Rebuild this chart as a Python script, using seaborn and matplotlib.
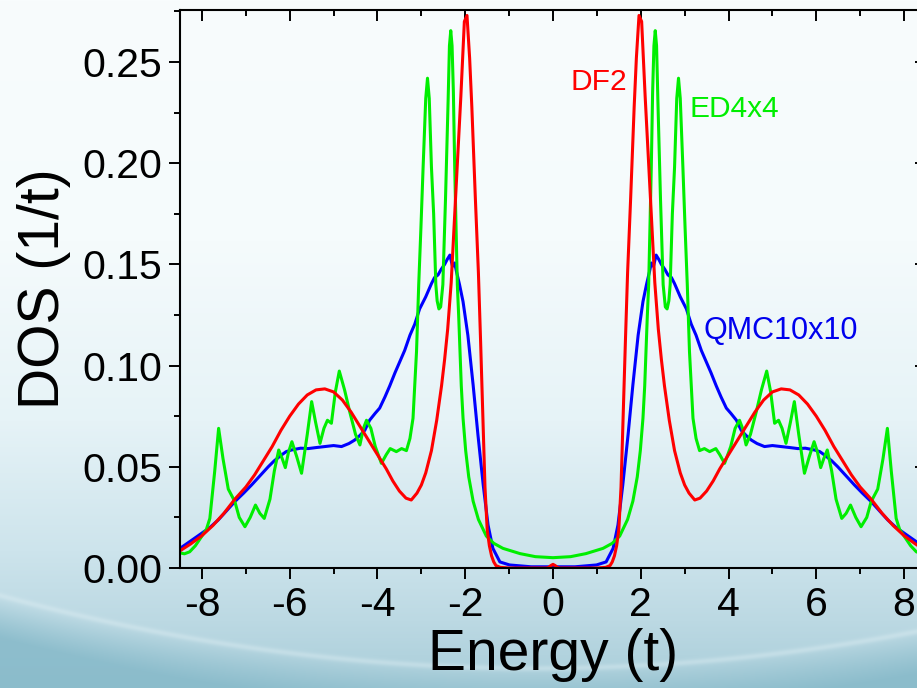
import numpy as np
import pandas as pd
import matplotlib
matplotlib.use('Agg')
import matplotlib.pyplot as plt
from matplotlib.ticker import MultipleLocator
import seaborn as sns

sns.set_theme(style='ticks')
plt.rcParams['font.family'] = ['Liberation Sans', 'DejaVu Sans']
plt.rcParams['axes.unicode_minus'] = False
for key in ['text.color', 'axes.labelcolor', 'xtick.color', 'ytick.color', 'axes.edgecolor']:
    plt.rcParams[key] = 'black'

# %% data (E >= 0 half, curves are symmetric in E)
df2_energy = [0.0, 0.05, 0.1, 0.15, 0.5, 1.0, 1.2, 1.3, 1.35, 1.4, 1.45, 1.5, 1.55, 1.6,
              1.65, 1.7, 1.77, 1.85, 1.9, 1.96, 2.02, 2.1, 2.16, 2.22, 2.32, 2.4, 2.47,
              2.54, 2.65, 2.77, 2.9, 3.0, 3.1, 3.23, 3.35, 3.5, 3.65, 3.8, 4.0, 4.2, 4.4,
              4.6, 4.8, 5.0, 5.2, 5.4, 5.6, 5.8, 6.0, 6.2, 6.4, 6.6, 6.8, 7.0, 7.25, 7.5,
              7.75, 8.0, 8.25, 8.5]
df2_dos = [0.0018, 0.0012, 0.0003, 0.0, 0.0, 0.0, 0.0003, 0.0012, 0.003, 0.006, 0.011,
           0.019, 0.04, 0.076, 0.112, 0.146, 0.183, 0.228, 0.252, 0.273, 0.270, 0.233,
           0.208, 0.183, 0.141, 0.118, 0.103, 0.090, 0.073, 0.058, 0.047, 0.041, 0.037,
           0.0336, 0.0345, 0.038, 0.043, 0.049, 0.056, 0.063, 0.070, 0.077, 0.083, 0.087,
           0.0885, 0.088, 0.0855, 0.081, 0.075, 0.068, 0.060, 0.053, 0.046, 0.040, 0.034,
           0.027, 0.021, 0.016, 0.012, 0.0085]

ed_energy = [0.0, 0.4, 0.75, 1.14, 1.35, 1.52, 1.7, 1.82, 1.92, 1.99, 2.05, 2.09, 2.15,
             2.18, 2.24, 2.27, 2.30, 2.33, 2.36, 2.39, 2.45, 2.51, 2.56, 2.60, 2.64, 2.67,
             2.72, 2.77, 2.82, 2.86, 2.90, 2.96, 3.01, 3.06, 3.11, 3.19, 3.26, 3.34, 3.45,
             3.57, 3.71, 3.8, 3.91, 4.05, 4.15, 4.25, 4.32, 4.40, 4.5, 4.63, 4.75, 4.87,
             4.96, 5.05, 5.14, 5.22, 5.31, 5.41, 5.50, 5.6, 5.73, 5.84, 5.95, 6.03, 6.10,
             6.17, 6.25, 6.35, 6.45, 6.58, 6.68, 6.78, 6.9, 7.02, 7.15, 7.25, 7.40, 7.52,
             7.62, 7.71, 7.82, 7.9, 8.01, 8.15, 8.28, 8.4, 8.5]
ed_dos = [0.0051, 0.0056, 0.0071, 0.0097, 0.0122, 0.0158, 0.024, 0.033, 0.045, 0.058,
          0.074, 0.090, 0.125, 0.140, 0.198, 0.235, 0.258, 0.2655, 0.258, 0.231, 0.182,
          0.140, 0.129, 0.128, 0.132, 0.140, 0.175, 0.198, 0.232, 0.242, 0.232, 0.198,
          0.168, 0.140, 0.107, 0.074, 0.064, 0.058, 0.059, 0.0575, 0.059, 0.056, 0.0517,
          0.060, 0.069, 0.073, 0.069, 0.0608, 0.066, 0.077, 0.088, 0.0973, 0.087, 0.0715,
          0.073, 0.069, 0.0616, 0.072, 0.0822, 0.066, 0.0468, 0.055, 0.0624, 0.057, 0.0496,
          0.054, 0.0583, 0.048, 0.034, 0.0245, 0.027, 0.0311, 0.025, 0.0204, 0.025, 0.0328,
          0.039, 0.054, 0.069, 0.0476, 0.0245, 0.019, 0.0155, 0.011, 0.008, 0.007, 0.0075]

qmc_energy = [0.0, 0.5, 0.99, 1.21, 1.37, 1.48, 1.59, 1.71, 1.82, 1.94, 2.05, 2.13, 2.2,
              2.24, 2.29, 2.35, 2.41, 2.47, 2.55, 2.62, 2.7, 2.77, 2.9, 3.04, 3.15, 3.26,
              3.38, 3.49, 3.6, 3.72, 3.83, 3.95, 4.05, 4.18, 4.29, 4.4, 4.52, 4.65, 4.82,
              5.0, 5.2, 5.4, 5.58, 5.75, 5.96, 6.08, 6.19, 6.35, 6.49, 6.68, 6.87, 7.05,
              7.25, 7.45, 7.63, 7.82, 8.01, 8.28, 8.5]
qmc_dos = [0.0006, 0.0006, 0.0015, 0.003, 0.0097, 0.0212, 0.041, 0.0657, 0.0904, 0.115,
           0.1316, 0.140, 0.1465, 0.1507, 0.149, 0.1546, 0.1525, 0.150, 0.1475, 0.1448,
           0.1435, 0.1405, 0.134, 0.128, 0.1205, 0.115, 0.1075, 0.102, 0.0965, 0.090,
           0.0845, 0.079, 0.0765, 0.073, 0.068, 0.0655, 0.0632, 0.0615, 0.060, 0.0605,
           0.060, 0.0595, 0.059, 0.0592, 0.0583, 0.0575, 0.0558, 0.053, 0.050, 0.0455,
           0.041, 0.037, 0.0328, 0.028, 0.0237, 0.020, 0.0171, 0.013, 0.0097]

methods = ['QMC10x10', 'ED4x4', 'DF2']
colors = {'QMC10x10': '#0000ff', 'ED4x4': '#00ee00', 'DF2': '#ff0000'}


def mirror(e, d):
    e = np.asarray(e, dtype=float)
    d = np.asarray(d, dtype=float)
    return np.r_[-e[::-1], e[1:]], np.r_[d[::-1], d[1:]]


frames = []
for name, (e, d) in zip(methods, [(qmc_energy, qmc_dos), (ed_energy, ed_dos),
                                  (df2_energy, df2_dos)]):
    ee, dd = mirror(e, d)
    frames.append(pd.DataFrame({'energy': ee, 'dos': dd, 'method': name}))
dos_df = pd.concat(frames, ignore_index=True)

# %% slide-style background
W, H = 917, 688
fig = plt.figure(figsize=(W / 100, H / 100), dpi=100)

yy, xx = np.mgrid[0:H, 0:W].astype(float)
stops_y = [0, 240, 420, 550, 620, 688]
stops_c = np.array([[248, 252, 253], [245, 251, 252], [230, 243, 247],
                    [205, 228, 236], [188, 217, 227], [168, 205, 217]], dtype=float)
base = np.stack([np.interp(yy, stops_y, stops_c[:, k]) for k in range(3)], axis=-1)
arc = 597 + 0.272 * xx - 0.000254 * xx ** 2
below = np.clip((yy - arc) / 40.0, 0, 1)[..., None]
dark = np.array([132, 184, 200], dtype=float)
img = base * (1 - 0.8 * below) + dark * 0.8 * below
streak = np.exp(-((yy - arc + 2) / 3.0) ** 2)[..., None]
img = img * (1 - 0.4 * streak) + np.array([222, 238, 243]) * 0.4 * streak
bg = fig.add_axes([0, 0, 1, 1])
bg.imshow(img.astype(np.uint8), aspect='auto', extent=[0, 1, 0, 1])
bg.axis('off')
bg.set_zorder(0)

# %% main plot
ax = fig.add_axes([180 / W, (H - 568) / H, 746 / W, 558 / H])
ax.set_zorder(1)
ax.patch.set_alpha(0)

sns.lineplot(data=dos_df, x='energy', y='dos', hue='method', hue_order=methods,
             palette=colors, estimator=None, sort=False, legend=False,
             linewidth=2.2, ax=ax)

ax.set_xlim(-8.5, 8.5)
ax.set_ylim(0, 0.2757)
ax.xaxis.set_major_locator(MultipleLocator(2))
ax.xaxis.set_minor_locator(MultipleLocator(1))
ax.yaxis.set_major_locator(MultipleLocator(0.05))
ax.yaxis.set_minor_locator(MultipleLocator(0.025))
ax.yaxis.set_major_formatter(plt.FormatStrFormatter('%.2f'))
ax.tick_params(which='major', direction='out', length=8, width=1.4, labelsize=29.5, pad=5)
ax.tick_params(which='minor', direction='out', length=4, width=1.4)
for s in ax.spines.values():
    s.set_linewidth(1.5)
    s.set_visible(True)

top = ax.secondary_xaxis('top')
top.xaxis.set_major_locator(MultipleLocator(2))
top.xaxis.set_minor_locator(MultipleLocator(1))
top.tick_params(which='major', direction='in', length=8, width=1.4, labeltop=False)
top.tick_params(which='minor', direction='in', length=4, width=1.4)
right = ax.secondary_yaxis('right')
right.yaxis.set_major_locator(MultipleLocator(0.05))
right.yaxis.set_minor_locator(MultipleLocator(0.025))
right.tick_params(which='major', direction='in', length=8, width=1.4, labelright=False)
right.tick_params(which='minor', direction='in', length=4, width=1.4)

ax.set_xlabel('Energy (t)', fontsize=41, labelpad=3)
ax.set_ylabel('DOS (1/t)', fontsize=41, labelpad=8)

ax.text(0.41, 0.240, 'DF2', color='#ff0000', fontsize=21.5, va='center', ha='left')
ax.text(3.11, 0.227, 'ED4x4', color='#00ee00', fontsize=21.5, va='center', ha='left')
ax.text(3.42, 0.117, 'QMC10x10', color='#0000ee', fontsize=22, va='center', ha='left')

fig.savefig('out.png', dpi=100)
